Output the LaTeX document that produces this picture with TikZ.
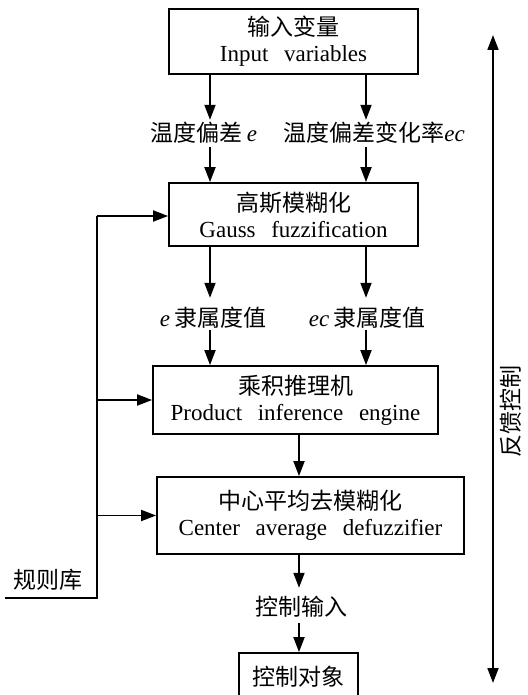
\documentclass[tikz,border=0pt]{standalone}
\usepackage{fontspec}
\setmainfont{Liberation Serif}
\newfontfamily\cjk{Noto Sans CJK SC}
\usetikzlibrary{arrows.meta}
\begin{document}
\begin{tikzpicture}[x=1pt,y=-1pt,
  tip/.tip={Triangle[length=15pt,width=11pt]},
  arr/.style={line width=1.8pt,-tip},
  darr/.style={line width=1.8pt,tip-tip},
  ln/.style={line width=1.8pt},
  box/.style={draw,line width=1.8pt,inner sep=0pt,align=center,font=\fontsize{23}{26}\selectfont},
  lab/.style={inner sep=0pt,anchor=base,font=\fontsize{23}{26}\selectfont},
  labA/.style={lab,text height=21.7pt,text depth=5.3pt},
  labB/.style={lab,text height=28.7pt,text depth=3.3pt},
  labC/.style={lab,text height=27.7pt,text depth=7.3pt},
]
\path[use as bounding box] (0,0) rectangle (527,695);
\coordinate (xa) at (210,0);
\coordinate (xb) at (366,0);
\coordinate (xc) at (299,0);

\node[box,minimum width=249pt,minimum height=65pt] (b1) at (293.5,41.5)
  {{\cjk 输入变量}\\Input\hspace{0.68em}variables};
\node[box,minimum width=249pt,minimum height=63pt] (b2) at (293.5,214.5)
  {{\cjk 高斯模糊化}\\Gauss\hspace{0.68em}fuzzification};
\node[box,minimum width=285pt,minimum height=68pt] (b3) at (295.5,400)
  {{\cjk 乘积推理机}\\Product\hspace{0.68em}inference\hspace{0.68em}engine};
\node[box,minimum width=307pt,minimum height=77pt] (b4) at (310.5,515.5)
  {{\cjk 中心平均去模糊化}\\Center\hspace{0.68em}average\hspace{0.68em}defuzzifier};
\begin{scope}
\clip (0,0) rectangle (527,695);
\node[box,minimum width=119pt,minimum height=48pt] (b5) at (298.5,677)
  {{\cjk 控制对象}};
\end{scope}

\node[labA] (l1a) at (204,141.7) {{\cjk 温度偏差}\,\textit{e}};
\node[labA] (l1b) at (374,141.7) {{\cjk 温度偏差变化率}\textit{ec}};
\node[labB] (l2a) at (213,326.7) {\textit{e}\,{\cjk 隶属度值}};
\node[labB] (l2b) at (367,326.7) {\textit{ec}\,{\cjk 隶属度值}};
\node[labC] (l3) at (301,615.7) {{\cjk 控制输入}};

\draw[arr] (b1.south -| xa) -- (l1a.north -| xa);
\draw[arr] (l1a.south -| xa) -- (b2.north -| xa);
\draw[arr] (b1.south -| xb) -- (l1b.north -| xb);
\draw[arr] (l1b.south -| xb) -- (b2.north -| xb);
\draw[arr] (b2.south -| xa) -- (l2a.north -| xa);
\draw[arr] (l2a.south -| xa) -- (b3.north -| xa);
\draw[arr] (b2.south -| xb) -- (l2b.north -| xb);
\draw[arr] (l2b.south -| xb) -- (b3.north -| xb);
\draw[arr] (b3.south -| xc) -- (b4.north -| xc);
\draw[arr] (b4.south -| xc) -- (l3.north -| xc);
\draw[arr] (l3.south -| xc) -- (b5.north -| xc);

% rule base
\node[font=\fontsize{23}{26}\selectfont\cjk,inner sep=0pt] (rb) at (48,580) {规则库};
\coordinate (rbl) at (5,598);
\coordinate (rbc) at (97,598);
\coordinate (rbt) at (97,216);
\draw[ln] (rbl) -- (rbc) -- (rbt);
\draw[arr] (rbt) -- (b2.west |- rbt);
\draw[arr] (rbc |- b3.west) -- (b3.west);
\draw[arr] (rbc |- b4.west) -- (b4.west);

% feedback
\coordinate (fbt) at (493,35);
\coordinate (fbb) at (493,683);
\draw[darr] (fbt) -- (fbb);
\node[font=\fontsize{23}{26}\selectfont\cjk,inner sep=0pt,rotate=90] (fb) at (511,411) {反馈控制};
\end{tikzpicture}
\end{document}
